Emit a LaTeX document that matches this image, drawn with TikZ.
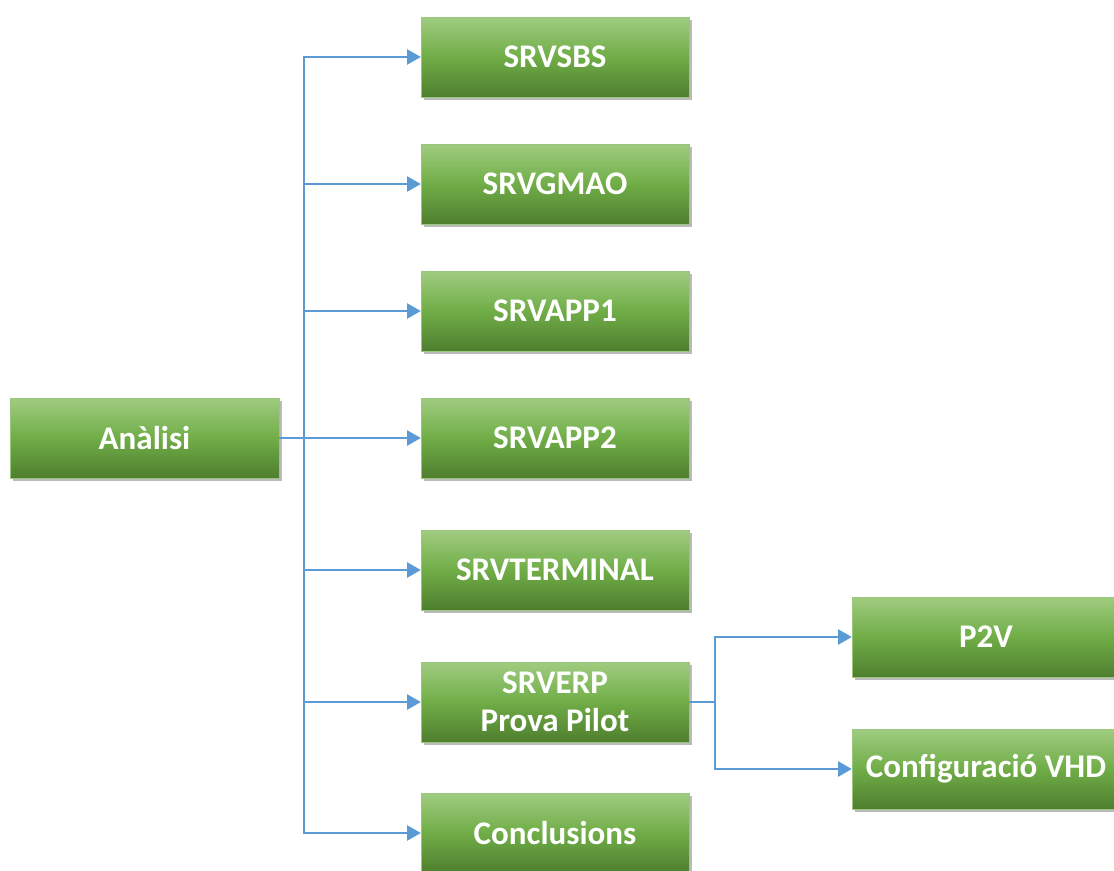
\documentclass[tikz,border=0pt]{standalone}
\usepackage{fontspec}
\setmainfont{Carlito}
\usetikzlibrary{arrows.meta,shadows}

\definecolor{boxtop}{RGB}{160,204,128}
\definecolor{boxmid}{RGB}{112,173,71}
\definecolor{boxbot}{RGB}{78,126,46}
\definecolor{linkblue}{RGB}{91,155,213}

\tikzset{
	taskbox/.style={rectangle, minimum width=6.7cm, minimum height=2cm,
		top color=boxtop, bottom color=boxbot, middle color=boxmid,
		draw=boxmid!70!white, line width=0.3pt,
		drop shadow={shadow xshift=0.8mm, shadow yshift=-0.8mm, opacity=0.45, fill=black!60},
		text=white, align=center, font=\fontsize{23.5}{27}\selectfont\bfseries},
	link/.style={draw=linkblue, line width=1pt},
	linkarrow/.style={link, -{Triangle[length=3.4mm, width=3.8mm]}}
}

\begin{document}
\begin{tikzpicture}
	\useasboundingbox (0,0) rectangle (27.85,-21.75);
	% root
	\node[taskbox, minimum width=6.725cm] (ana) at (3.6125,-10.95) {Anàlisi};
	% servers
	\node[taskbox] (sbs)  at (13.875,-1.425)  {SRVSBS};
	\node[taskbox] (gmao) at (13.875,-4.6)    {SRVGMAO};
	\node[taskbox] (app1) at (13.875,-7.775)  {SRVAPP1};
	\node[taskbox] (app2) at (13.875,-10.95)  {SRVAPP2};
	\node[taskbox] (term) at (13.875,-14.25)  {SRVTERMINAL};
	\node[taskbox] (erp)  at (13.875,-17.55)  {SRVERP\\Prova Pilot};
	\node[taskbox] (conc) at (13.875,-20.825) {Conclusions};
	% pilot steps
	\node[taskbox] (p2v) at (24.65,-15.925) {P2V};
	\node[taskbox] (vhd) at (24.65,-19.225) {Configuració VHD};

	\coordinate (trunk) at (7.6,-10.95);
	\coordinate (split) at (17.875,-17.55);

	\draw[link] (ana.east) -- (trunk);
	\foreach \n in {sbs,gmao,app1,app2,term,erp,conc}
		\draw[linkarrow] (trunk) |- (\n.west);

	\draw[link] (erp.east) -- (split);
	\draw[linkarrow] (split) |- (p2v.west);
	\draw[linkarrow] (split) |- (vhd.west);
\end{tikzpicture}
\end{document}
